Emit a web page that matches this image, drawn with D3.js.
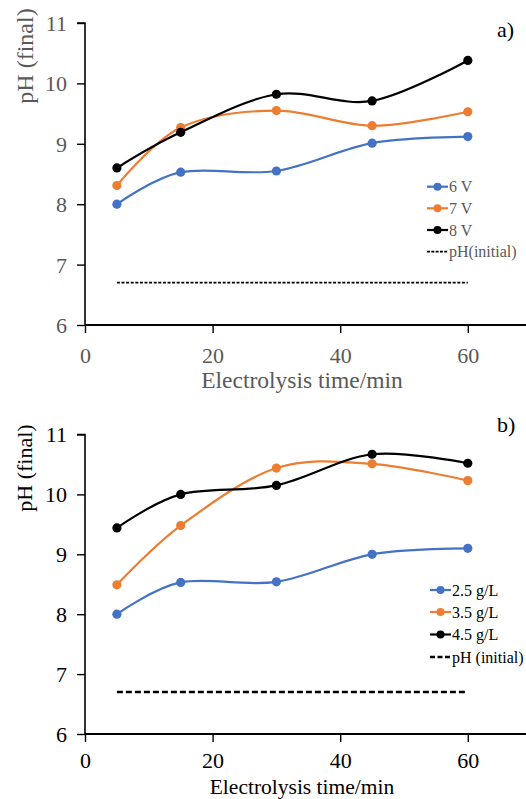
<!DOCTYPE html>
<html>
<head>
<meta charset="utf-8">
<script src="https://cdn.jsdelivr.net/npm/d3@7"></script>
<style>
  html, body { margin: 0; padding: 0; background: #fff; }
  svg { display: block; font-family: "Liberation Serif", "Times New Roman", serif; }
</style>
</head>
<body>
<svg id="chart" width="526" height="799"></svg>
<script>
// ---------- data ----------
const times = [5, 15, 30, 45, 60];
const xTicks = [0, 20, 40, 60];
const yTicks = [6, 7, 8, 9, 10, 11];
const initialPH = 6.7;

// panel a) voltage
const seriesA_names = ["6 V", "7 V", "8 V"];
const seriesA_6V = [8.0, 8.53, 8.55, 9.01, 9.12];
const seriesA_7V = [8.31, 9.27, 9.55, 9.30, 9.53];
const seriesA_8V = [8.60, 9.19, 9.82, 9.71, 10.38];
const legendA_initial = "pH(initial)";

// panel b) concentration
const seriesB_names = ["2.5 g/L", "3.5 g/L", "4.5 g/L"];
const seriesB_25 = [8.0, 8.53, 8.54, 9.0, 9.1];
const seriesB_35 = [8.49, 9.48, 10.44, 10.51, 10.23];
const seriesB_45 = [9.44, 10.0, 10.15, 10.67, 10.52];
const legendB_initial = "pH (initial)";

const colors = ["#4472C4", "#ED7D31", "#000000"];

const svg = d3.select("#chart");

function panel(cfg) {
  const g = svg.append("g");
  const x = d3.scaleLinear().domain([0, 70]).range([85, 531.6]);
  const y = d3.scaleLinear().domain([6, 11]).range([cfg.yBottom, cfg.yTop]);

  // axes
  const yAxis = d3.axisLeft(y).tickValues(yTicks).tickSize(8).tickPadding(10).tickFormat(d3.format("d"));
  const xAxis = d3.axisBottom(x).tickValues(xTicks).tickSize(8).tickPadding(cfg.xPad).tickFormat(d3.format("d"));

  const ya = g.append("g").attr("transform", `translate(${x(0)},0)`).call(yAxis);
  ya.select(".domain").attr("d", `M-8,${y(11)}H0V${y(6)}`).attr("stroke", "#000").attr("stroke-width", 1.6);
  ya.selectAll(".tick line").attr("stroke", "#000").attr("stroke-width", 1.4);
  ya.selectAll(".tick text").attr("fill", cfg.textColor).style("font-size", cfg.tickSize + "px")
    .style("font-family", "Liberation Serif").attr("dy", "0.34em");

  const xa = g.append("g").attr("transform", `translate(0,${y(6)})`).call(xAxis);
  xa.select(".domain").attr("d", `M${x(0)},0H${x(70)}`).attr("stroke", "#000").attr("stroke-width", 2);
  xa.selectAll(".tick line").attr("stroke", "#000").attr("stroke-width", 1.4);
  xa.selectAll(".tick text").attr("fill", cfg.textColor).style("font-size", cfg.tickSize + "px")
    .style("font-family", "Liberation Serif");

  // axis titles
  g.append("text").attr("x", 302).attr("y", cfg.xTitleY).attr("text-anchor", "middle")
    .attr("fill", cfg.textColor).style("font-size", cfg.titleSize + "px").text("Electrolysis time/min");
  g.append("text").attr("transform", `translate(${cfg.yTitleX},${cfg.yTitleCY}) rotate(-90)`)
    .attr("text-anchor", "middle").attr("fill", cfg.textColor).style("font-size", cfg.yTitleSize + "px")
    .text("pH (final)");

  // panel label
  g.append("text").attr("x", 497).attr("y", cfg.labelY).attr("fill", "#000")
    .style("font-size", "22px").text(cfg.label);

  // initial pH line
  g.append("line").attr("x1", x(times[0])).attr("x2", x(times[times.length - 1]))
    .attr("y1", y(initialPH)).attr("y2", y(initialPH))
    .attr("stroke", "#000").attr("stroke-width", cfg.dashWidth).attr("stroke-dasharray", cfg.dash);

  // series
  const line = d3.line().x((d, i) => x(times[i])).y(d => y(d)).curve(d3.curveCardinal.tension(0));
  cfg.series.forEach((vals, si) => {
    g.append("path").datum(vals).attr("d", line).attr("fill", "none")
      .attr("stroke", colors[si]).attr("stroke-width", 2.2);
    g.selectAll(null).data(vals).enter().append("circle")
      .attr("cx", (d, i) => x(times[i])).attr("cy", d => y(d)).attr("r", 4.6)
      .attr("fill", colors[si]);
  });

  // legend
  const lg = g.append("g");
  cfg.names.concat([cfg.initName]).forEach((nm, i) => {
    const cy = cfg.legY[i];
    if (i < 3) {
      lg.append("line").attr("x1", cfg.legX0).attr("x2", cfg.legX0 + 21).attr("y1", cy).attr("y2", cy)
        .attr("stroke", colors[i]).attr("stroke-width", 2.2);
      lg.append("circle").attr("cx", cfg.legX0 + 10.5).attr("cy", cy).attr("r", 4).attr("fill", colors[i]);
    } else {
      lg.append("line").attr("x1", cfg.legX0).attr("x2", cfg.legX0 + 21).attr("y1", cy).attr("y2", cy)
        .attr("stroke", "#000").attr("stroke-width", cfg.dashWidth).attr("stroke-dasharray", cfg.legDash);
    }
    lg.append("text").attr("x", cfg.legX0 + 22).attr("y", cy).attr("dy", "0.35em")
      .attr("fill", cfg.textColor).style("font-size", "16px").text(nm);
  });
}

panel({
  yTop: 23, yBottom: 325, textColor: "#595959", tickSize: 22, titleSize: 23.5, yTitleSize: 24,
  xPad: 14, xTitleY: 388, yTitleX: 33, yTitleCY: 56, label: "a)", labelY: 37,
  dash: "3,1.6", legDash: "3,1.3", dashWidth: 1.8,
  series: [seriesA_6V, seriesA_7V, seriesA_8V], names: seriesA_names, initName: legendA_initial,
  legX0: 427, legY: [186.7, 208.3, 230, 251.7]
});

panel({
  yTop: 434.5, yBottom: 734, textColor: "#000", tickSize: 22, titleSize: 21.5, yTitleSize: 22,
  xPad: 10, xTitleY: 794, yTitleX: 32, yTitleCY: 468, label: "b)", labelY: 432,
  dash: "6,3", legDash: "5,2.5", dashWidth: 2.6,
  series: [seriesB_25, seriesB_35, seriesB_45], names: seriesB_names, initName: legendB_initial,
  legX0: 430, legY: [590, 612, 634.5, 657]
});
</script>
</body>
</html>
